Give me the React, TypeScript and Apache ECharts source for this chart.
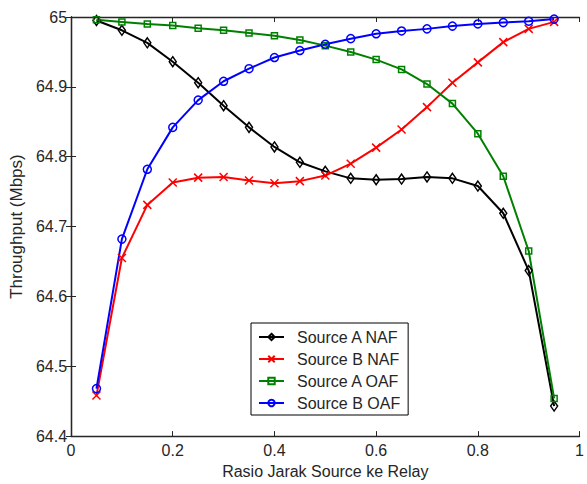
import React, { useEffect, useRef } from "react";
import * as echarts from "echarts";

const xValues = [0.05, 0.1, 0.15, 0.2, 0.25, 0.3, 0.35, 0.4, 0.45, 0.5, 0.55, 0.6, 0.65, 0.7, 0.75, 0.8, 0.85, 0.9, 0.95];

const sourceANAF = [64.995, 64.981, 64.963, 64.936, 64.906, 64.873, 64.842, 64.814, 64.792, 64.779, 64.769, 64.767, 64.768, 64.771, 64.769, 64.758, 64.719, 64.637, 64.443];
const sourceBNAF = [64.458, 64.655, 64.731, 64.763, 64.770, 64.771, 64.766, 64.762, 64.765, 64.773, 64.790, 64.813, 64.839, 64.871, 64.906, 64.935, 64.964, 64.983, 64.993];
const sourceAOAF = [64.996, 64.993, 64.990, 64.988, 64.984, 64.981, 64.977, 64.973, 64.967, 64.959, 64.950, 64.939, 64.925, 64.904, 64.876, 64.833, 64.772, 64.665, 64.454];
const sourceBOAF = [64.468, 64.682, 64.782, 64.842, 64.881, 64.908, 64.926, 64.942, 64.952, 64.961, 64.969, 64.976, 64.980, 64.983, 64.987, 64.990, 64.992, 64.994, 64.997];

const seriesNames = ["Source A NAF", "Source B NAF", "Source A OAF", "Source B OAF"];

const FONT = "'Liberation Sans', Arial, Helvetica, sans-serif";
const AXIS_COLOR = "#262626";
const TEXT_COLOR = "#262626";

const crossPath = "path://M0,0L10,10M10,0L0,10";

export default function App() {
  const ref = useRef<HTMLDivElement>(null);
  useEffect(() => {
    if (!ref.current) return;
    const chart = echarts.init(ref.current, undefined, { renderer: "svg" });
    const mk = (arr: number[]) => xValues.map((x, i) => [x, arr[i]]);
    const makeSeries = (name: string, data: number[], color: string, symbol: string, size: number | number[]) => ({
      name,
      type: "line",
      data: mk(data),
      symbol,
      symbolSize: size,
      showSymbol: true,
      color,
      lineStyle: { color, width: 2 },
      itemStyle: { color: "rgba(255,255,255,0)", borderColor: color, borderWidth: 1.5 },
      emphasis: { disabled: true },
      z: 3,
    });
    const hiddenAxis = {
      axisLine: { show: true, lineStyle: { color: AXIS_COLOR, width: 1.3 } },
      axisTick: { show: true, inside: true, length: 5, lineStyle: { color: AXIS_COLOR } },
      axisLabel: { show: false },
      splitLine: { show: false },
    };
    const fmt = (v: number) => String(Math.round(v * 10) / 10);
    chart.setOption({
      animation: false,
      backgroundColor: "#ffffff",
      textStyle: { fontFamily: FONT },
      grid: { left: 66, right: 1, top: 17, bottom: 42, containLabel: false },
      legend: {
        orient: "vertical",
        left: 251,
        top: 323,
        data: seriesNames,
        itemWidth: 25,
        itemHeight: 8,
        itemGap: 6,
        padding: [6, 8, 4, 7],
        borderColor: "#000",
        borderWidth: 1,
        backgroundColor: "#fff",
        textStyle: { fontFamily: FONT, fontSize: 16, color: TEXT_COLOR, padding: [0, 0, 0, 8] },
      },
      xAxis: [
        {
          type: "value",
          min: 0,
          max: 1,
          interval: 0.2,
          position: "bottom",
          name: "Rasio Jarak Source ke Relay",
          nameLocation: "middle",
          nameGap: 25,
          nameTextStyle: { fontFamily: FONT, fontSize: 16, color: TEXT_COLOR },
          axisLine: { show: true, lineStyle: { color: AXIS_COLOR, width: 1.3 } },
          axisTick: { show: true, inside: true, length: 5, lineStyle: { color: AXIS_COLOR } },
          axisLabel: { fontFamily: FONT, fontSize: 16, color: TEXT_COLOR, margin: 6, formatter: fmt },
          splitLine: { show: false },
        },
        { type: "value", min: 0, max: 1, interval: 0.2, position: "top", ...hiddenAxis },
      ],
      yAxis: [
        {
          type: "value",
          min: 64.4,
          max: 65,
          interval: 0.1,
          position: "left",
          name: "Throughput (Mbps)",
          nameLocation: "middle",
          nameGap: 39,
          nameTextStyle: { fontFamily: FONT, fontSize: 17, color: TEXT_COLOR },
          axisLine: { show: true, lineStyle: { color: AXIS_COLOR, width: 1.3 } },
          axisTick: { show: true, inside: true, length: 5, lineStyle: { color: AXIS_COLOR } },
          axisLabel: { fontFamily: FONT, fontSize: 16, color: TEXT_COLOR, margin: 4, formatter: fmt },
          splitLine: { show: false },
        },
        { type: "value", min: 64.4, max: 65, interval: 0.1, position: "right", ...hiddenAxis },
      ],
      series: [
        makeSeries(seriesNames[0], sourceANAF, "#000000", "diamond", [7, 10]),
        makeSeries(seriesNames[1], sourceBNAF, "#ff0000", crossPath, 8),
        makeSeries(seriesNames[2], sourceAOAF, "#008000", "rect", 6),
        makeSeries(seriesNames[3], sourceBOAF, "#0000ff", "circle", 8),
      ],
    });
    return () => chart.dispose();
  }, []);
  return <div ref={ref} style={{ position: "fixed", left: 0, top: 0, width: 587, height: 484 }} />;
}
